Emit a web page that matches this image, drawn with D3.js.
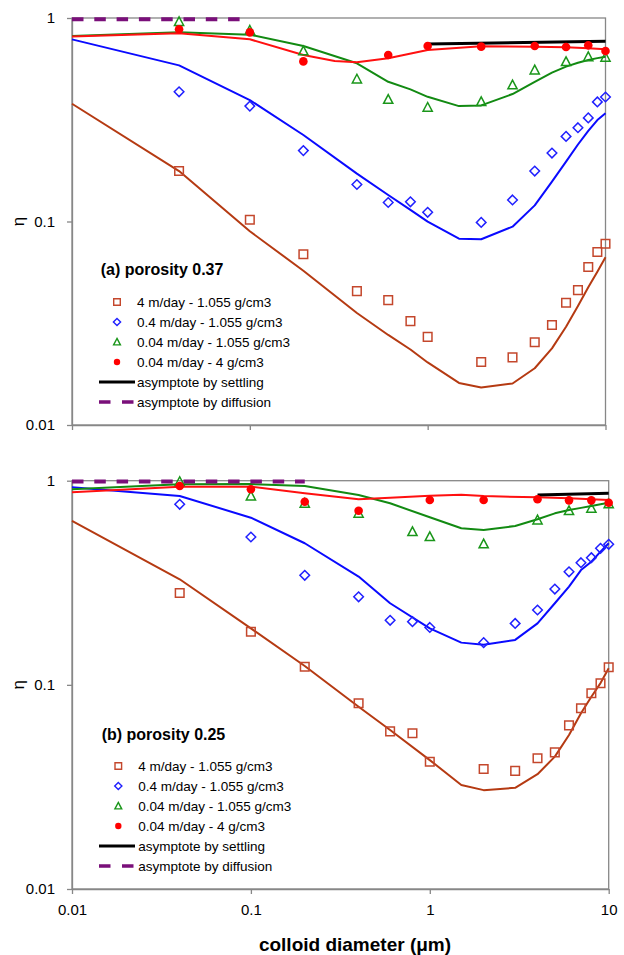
<!DOCTYPE html>
<html><head><meta charset="utf-8">
<script src="https://cdn.jsdelivr.net/npm/d3@7"></script>
<style>
body{margin:0;background:#fff}
svg{display:block}
text{font-family:"Liberation Sans",Arial,Helvetica,sans-serif;fill:#000}
</style></head>
<body><svg id="c" width="624" height="955"></svg>
<script>
// ---------- tick values ----------
const xTicks = [0.01, 0.1, 1, 10];
const yTicks = [0.01, 0.1, 1];
const xTitle = "colloid diameter (\u03bcm)";
const yTitle = "\u03b7";
const legendLabels = ["4 m/day - 1.055 g/cm3", "0.4 m/day - 1.055 g/cm3", "0.04 m/day - 1.055 g/cm3", "0.04 m/day - 4 g/cm3", "asymptote by settling", "asymptote by diffusion"];

// ---------- data: (a) porosity 0.37 ----------
const dPts = [0.04, 0.1, 0.2, 0.4, 0.6, 0.8, 1, 2, 3, 4, 5, 6, 7, 8, 9, 10];
const aSquares = [0.177, 0.102, 0.069, 0.0455, 0.0411, 0.0324, 0.0271, 0.0204, 0.0215, 0.0255, 0.031, 0.0399, 0.046, 0.0598, 0.0708, 0.0778];
const aDiamonds = [0.434, 0.369, 0.223, 0.152, 0.124, 0.125, 0.111, 0.099, 0.1276, 0.177, 0.217, 0.262, 0.289, 0.323, 0.387, 0.409];
const aTriX = [0.04, 0.1, 0.2, 0.4, 0.6, 1, 2, 3, 4, 6, 8, 10];
const aTri = [0.96, 0.87, 0.689, 0.501, 0.398, 0.364, 0.388, 0.469, 0.555, 0.61, 0.645, 0.641];
const aDotX = [0.04, 0.1, 0.2, 0.6, 1, 2, 4, 6, 8, 10];
const aDot = [0.88, 0.85, 0.612, 0.658, 0.728, 0.723, 0.728, 0.72, 0.734, 0.688];

const aCurveX = [0.01, 0.04, 0.1, 0.2, 0.4, 0.6, 0.8, 1, 1.5, 2, 3, 4, 5, 6, 7, 8, 9, 10];
const aBrownCurve = [0.379, 0.177, 0.0895, 0.0573, 0.0355, 0.0277, 0.0235, 0.0203, 0.0161, 0.0153, 0.016, 0.019, 0.0238, 0.0304, 0.0384, 0.0475, 0.0567, 0.0667];
const aBlueCurve = [0.785, 0.585, 0.395, 0.266, 0.172, 0.135, 0.114, 0.0998, 0.0823, 0.0818, 0.0943, 0.12, 0.157, 0.197, 0.239, 0.279, 0.315, 0.34];
const aGreenCurve = [0.816, 0.85, 0.828, 0.728, 0.599, 0.486, 0.446, 0.41, 0.369, 0.372, 0.423, 0.486, 0.539, 0.577, 0.603, 0.622, 0.635, 0.645];
const aRedCurveX = [0.01, 0.04, 0.1, 0.2, 0.3, 0.4, 0.6, 1, 2, 4, 6, 8, 10];
const aRedCurve = [0.81, 0.841, 0.786, 0.658, 0.615, 0.606, 0.634, 0.696, 0.726, 0.723, 0.718, 0.71, 0.702];
const aSettleX = [1, 10];
const aSettle = [0.745, 0.768];
const aDiffX = [0.01, 0.09];
const aDiff = [0.985, 0.985];

// ---------- data: (b) porosity 0.25 ----------
const bSquares = [0.282, 0.182, 0.1227, 0.0812, 0.0592, 0.0579, 0.042, 0.0387, 0.0379, 0.0437, 0.0467, 0.0633, 0.0768, 0.091, 0.1018, 0.122];
const bDiamonds = [0.766, 0.53, 0.344, 0.27, 0.207, 0.204, 0.191, 0.161, 0.2, 0.2326, 0.2947, 0.358, 0.3965, 0.4196, 0.4665, 0.488];
const bTriX = [0.04, 0.1, 0.2, 0.4, 0.8, 1, 2, 4, 6, 8, 10];
const bTri = [0.99, 0.841, 0.775, 0.692, 0.563, 0.532, 0.49, 0.642, 0.713, 0.732, 0.77];
const bDotX = [0.04, 0.1, 0.2, 0.4, 1, 2, 4, 6, 8, 10];
const bDot = [0.942, 0.908, 0.789, 0.713, 0.804, 0.804, 0.811, 0.801, 0.801, 0.78];

const bCurveX = [0.01, 0.04, 0.1, 0.2, 0.4, 0.6, 1, 1.5, 2, 3, 4, 5, 6, 7, 8, 9, 10];
const bBrownCurve = [0.635, 0.329, 0.189, 0.1237, 0.0781, 0.0601, 0.0428, 0.0323, 0.0305, 0.0313, 0.0365, 0.0445, 0.0568, 0.0726, 0.0875, 0.102, 0.1205];
const bBlueCurve = [0.928, 0.841, 0.659, 0.494, 0.339, 0.251, 0.189, 0.161, 0.157, 0.166, 0.2, 0.251, 0.303, 0.365, 0.401, 0.449, 0.494];
const bGreenCurve = [0.908, 0.96, 0.963, 0.942, 0.851, 0.775, 0.662, 0.585, 0.574, 0.6, 0.647, 0.692, 0.718, 0.736, 0.752, 0.767, 0.78];
const bRedCurveX = [0.01, 0.04, 0.1, 0.2, 0.4, 0.6, 1, 1.5, 2, 4, 6, 10];
const bRedCurve = [0.877, 0.935, 0.935, 0.868, 0.811, 0.826, 0.844, 0.854, 0.841, 0.829, 0.82, 0.804];
const bSettleX = [4, 10];
const bSettle = [0.851, 0.868];
const bDiffX = [0.01, 0.2];
const bDiff = [0.99, 0.99];

// ---------- styles ----------
const C = {
  brownLine: "#B53A12", brownMark: "#C4472C",
  blueLine: "#0A0AFF", blueMark: "#2020FF",
  greenLine: "#128A12", greenMark: "#1A961A",
  redLine: "#FF1010", redMark: "#FF0000",
  purple: "#7A0F7A", axis: "#878787"
};

const zip = (xs, ys) => xs.map((x, i) => [x, ys[i]]);

const panels = [
  { top: 18, bottom: 425, left: 72, right: 605.5, labels: false, title: "(a) porosity 0.37",
    legX: 100.7, legTitleY: 275, legY0: 302, symX: 117, txtX: 137,
    sq: zip(dPts, aSquares), di: zip(dPts, aDiamonds), tri: zip(aTriX, aTri), dot: zip(aDotX, aDot),
    brown: zip(aCurveX, aBrownCurve), blue: zip(aCurveX, aBlueCurve), green: zip(aCurveX, aGreenCurve),
    red: zip(aRedCurveX, aRedCurve), settle: zip(aSettleX, aSettle), diff: zip(aDiffX, aDiff) },
  { top: 480.7, bottom: 889, left: 72, right: 608.7, labels: true, title: "(b) porosity 0.25",
    legX: 101.7, legTitleY: 740, legY0: 766, symX: 118.3, txtX: 138.3,
    sq: zip(dPts, bSquares), di: zip(dPts, bDiamonds), tri: zip(bTriX, bTri), dot: zip(bDotX, bDot),
    brown: zip(bCurveX, bBrownCurve), blue: zip(bCurveX, bBlueCurve), green: zip(bCurveX, bGreenCurve),
    red: zip(bRedCurveX, bRedCurve), settle: zip(bSettleX, bSettle), diff: zip(bDiffX, bDiff) }
];

const svg = d3.select("#c");

function sqPath(s) { return `M${-s},${-s}H${s}V${s}H${-s}Z`; }
function diPath(s) { return `M0,${-s}L${s},0L0,${s}L${-s},0Z`; }
function triPath(s) { return `M0,${-s*1.05}L${s},${s*0.85}L${-s},${s*0.85}Z`; }

function drawPanel(p) {
  const x = d3.scaleLog().domain([0.01, 10]).range([p.left, p.right]);
  const y = d3.scaleLog().domain([0.01, 1]).range([p.bottom, p.top]);
  const g = svg.append("g");

  // frame
  g.append("rect").attr("x", p.left).attr("y", p.top)
    .attr("width", p.right - p.left).attr("height", p.bottom - p.top)
    .attr("fill", "none").attr("stroke", C.axis).attr("stroke-width", 1.3);

  const ax = g.append("g").attr("transform", `translate(0,${p.bottom})`)
    .call(d3.axisBottom(x).tickValues(xTicks).tickSize(5).tickSizeOuter(0).tickPadding(10)
      .tickFormat(p.labels ? d3.format("~g") : () => ""));
  const ay = g.append("g").attr("transform", `translate(${p.left},0)`)
    .call(d3.axisLeft(y).tickValues(yTicks).tickSize(5).tickSizeOuter(0).tickPadding(12)
      .tickFormat(d3.format("~g")));
  [ax, ay].forEach(a => {
    a.select(".domain").attr("stroke", C.axis).attr("stroke-width", 1.3);
    a.selectAll(".tick line").attr("stroke", C.axis).attr("stroke-width", 1.3);
    a.selectAll(".tick text").attr("fill", "#000").style("font-size", "15px")
      .style("font-family", '"Liberation Sans",Arial,sans-serif');
  });

  // y title
  g.append("text").attr("transform", `translate(24,${y(0.1)}) rotate(-90)`)
    .attr("text-anchor", "middle").style("font-size", "17px").text(yTitle);

  const line = d3.line().x(d => x(d[0])).y(d => y(d[1]));
  const curves = [[p.brown, C.brownLine], [p.blue, C.blueLine], [p.green, C.greenLine], [p.red, C.redLine]];
  curves.forEach(([d, c]) => g.append("path").attr("d", line(d)).attr("fill", "none")
    .attr("stroke", c).attr("stroke-width", 2).attr("stroke-linejoin", "round"));
  g.append("path").attr("d", line(p.settle)).attr("fill", "none").attr("stroke", "#000").attr("stroke-width", 3);
  g.append("path").attr("d", line(p.diff)).attr("fill", "none").attr("stroke", C.purple)
    .attr("stroke-width", 4).attr("stroke-dasharray", "11.5,10.8");

  // markers
  g.selectAll(null).data(p.sq).join("path")
    .attr("transform", d => `translate(${x(d[0])},${y(d[1])})`).attr("d", sqPath(4.3))
    .attr("fill", "none").attr("stroke", C.brownMark).attr("stroke-width", 1.5);
  g.selectAll(null).data(p.di).join("path")
    .attr("transform", d => `translate(${x(d[0])},${y(d[1])})`).attr("d", diPath(4.8))
    .attr("fill", "none").attr("stroke", C.blueMark).attr("stroke-width", 1.5);
  g.selectAll(null).data(p.tri).join("path")
    .attr("transform", d => `translate(${x(d[0])},${y(d[1])})`).attr("d", triPath(4.6))
    .attr("fill", "none").attr("stroke", C.greenMark).attr("stroke-width", 1.5);
  g.selectAll(null).data(p.dot).join("circle")
    .attr("cx", d => x(d[0])).attr("cy", d => y(d[1])).attr("r", 4.3).attr("fill", C.redMark);

  // legend
  g.append("text").attr("x", p.legX).attr("y", p.legTitleY)
    .style("font-size", "16px").style("font-weight", "bold").text(p.title);
  const rows = legendLabels.map((t, i) => ({ t, i, cy: p.legY0 + i * 20 }));
  rows.forEach(r => {
    g.append("text").attr("x", p.txtX).attr("y", r.cy + 4.8).style("font-size", "13.5px").text(r.t);
    const tr = `translate(${p.symX},${r.cy})`;
    if (r.i === 0) g.append("path").attr("transform", tr).attr("d", sqPath(3.3)).attr("fill", "none").attr("stroke", C.brownMark).attr("stroke-width", 1.4);
    if (r.i === 1) g.append("path").attr("transform", tr).attr("d", diPath(3.6)).attr("fill", "none").attr("stroke", C.blueMark).attr("stroke-width", 1.4);
    if (r.i === 2) g.append("path").attr("transform", tr).attr("d", triPath(3.4)).attr("fill", "none").attr("stroke", C.greenMark).attr("stroke-width", 1.4);
    if (r.i === 3) g.append("circle").attr("cx", p.symX).attr("cy", r.cy).attr("r", 3.2).attr("fill", C.redMark);
    if (r.i === 4) g.append("line").attr("x1", 99).attr("x2", 135).attr("y1", r.cy).attr("y2", r.cy).attr("stroke", "#000").attr("stroke-width", 3);
    if (r.i === 5) g.append("line").attr("x1", 99).attr("x2", 135).attr("y1", r.cy).attr("y2", r.cy).attr("stroke", C.purple).attr("stroke-width", 3.5).attr("stroke-dasharray", "11.5,11.5");
  });
}

panels.forEach(drawPanel);

svg.append("text").attr("x", 355).attr("y", 951).attr("text-anchor", "middle")
  .style("font-size", "19px").style("font-weight", "bold").text(xTitle);
</script></body></html>
